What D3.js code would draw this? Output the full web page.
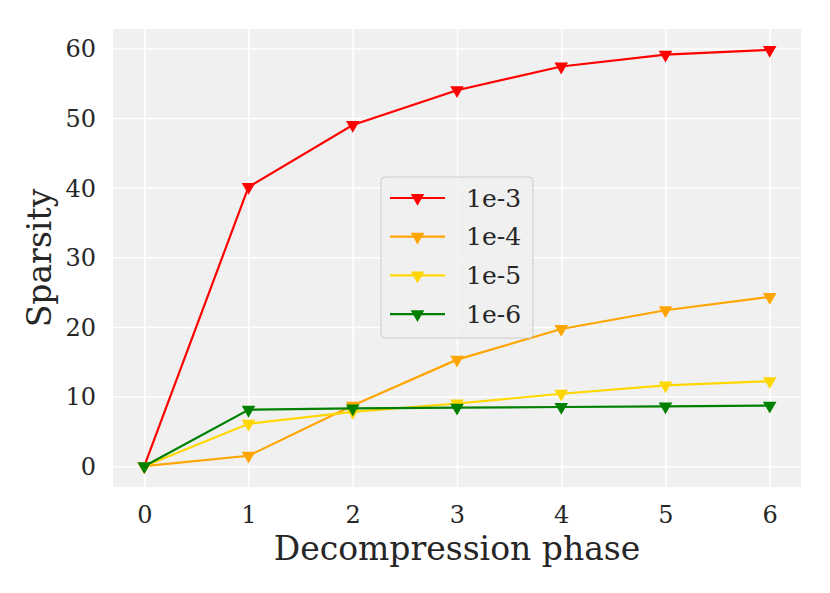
<!DOCTYPE html>
<html>
<head>
<meta charset="utf-8">
<script src="https://cdn.jsdelivr.net/npm/d3@7"></script>
<style>
  body { margin: 0; background: #fff; }
  text { font-family: "DejaVu Serif", serif; fill: #262626; }
</style>
</head>
<body>
<script>
// chart values
var phases = [0, 1, 2, 3, 4, 5, 6];
var seriesNames = ["1e-3", "1e-4", "1e-5", "1e-6"];
var seriesColors = ["#ff0000", "#ffa500", "#ffd700", "#008000"];
var sparsity3 = [0, 40.1, 49.0, 54.0, 57.4, 59.1, 59.8];
var sparsity4 = [0, 1.5, 8.7, 15.3, 19.7, 22.4, 24.3];
var sparsity5 = [0, 6.1, 7.8, 9.0, 10.4, 11.6, 12.2];
var sparsity6 = [0, 8.1, 8.3, 8.4, 8.5, 8.6, 8.7];
var yTicks = [0, 10, 20, 30, 40, 50, 60];

var series = [sparsity3, sparsity4, sparsity5, sparsity6].map(function(vals, i){
  return {name: seriesNames[i], color: seriesColors[i],
          values: vals.map(function(v, j){ return {x: phases[j], y: v}; })};
});

var width = 830, height = 593;
var margin = {left:113, right:29, top:29, bottom:106};
var w = width - margin.left - margin.right,
    h = height - margin.top - margin.bottom;

var xPad = (d3.max(phases) - d3.min(phases)) * 0.05;
var allY = [].concat(sparsity3, sparsity4, sparsity5, sparsity6);
var yPad = (d3.max(allY) - d3.min(allY)) * 0.05;

var x = d3.scaleLinear()
  .domain([d3.min(phases) - xPad, d3.max(phases) + xPad])
  .range([0, w]);
var y = d3.scaleLinear()
  .domain([d3.min(allY) - yPad, d3.max(allY) + yPad])
  .range([h, 0]);

var svg = d3.select('body').append('svg').attr('width', width).attr('height', height);
var chartGroup = svg.append('g')
  .attr('transform', 'translate(' + margin.left + ',' + margin.top + ')');

chartGroup.append('rect').attr('width', w).attr('height', h).attr('fill', '#f0f0f0');

// grid lines come from the axes with full-length ticks
var xAxis = d3.axisBottom(x).tickValues(phases).tickSize(-h).tickFormat(d3.format('d'));
var yAxis = d3.axisLeft(y).tickValues(yTicks).tickSize(-w).tickFormat(d3.format('d'));

var gx = chartGroup.append('g').attr('class', 'axis x')
  .attr('transform', 'translate(0,' + h + ')').call(xAxis);
var gy = chartGroup.append('g').attr('class', 'axis y').call(yAxis);

[gx, gy].forEach(function(g){
  g.select('.domain').remove();
  g.selectAll('line').attr('stroke', '#ffffff').attr('stroke-width', 1.6);
  g.selectAll('text').style('font-size', '24px').attr('fill', '#262626');
});
gx.selectAll('text').attr('dy', null).attr('y', 36);
gy.selectAll('text').attr('x', -17).attr('dy', '0.35em');

var line = d3.line()
  .x(function(d){ return x(d.x); })
  .y(function(d){ return y(d.y); });

var tri = d3.symbol().type(d3.symbolTriangle).size(80);

series.forEach(function(s){
  var g = chartGroup.append('g');
  g.append('path').attr('d', line(s.values))
    .attr('fill', 'none').attr('stroke', s.color).attr('stroke-width', 2.2);
  g.selectAll('path.mk').data(s.values).enter().append('path').attr('class', 'mk')
    .attr('d', tri)
    .attr('transform', function(d){ return 'translate(' + x(d.x) + ',' + y(d.y) + ') rotate(180)'; })
    .attr('fill', s.color);
});

// legend
var legend = chartGroup.append('g')
  .attr('transform', 'translate(' + (381 - margin.left) + ',' + (177 - margin.top) + ')');
legend.append('rect').attr('width', 152).attr('height', 161).attr('rx', 4)
  .attr('fill', '#f0f0f0').attr('fill-opacity', 0.8)
  .attr('stroke', '#cccccc').attr('stroke-width', 1);
var rows = legend.selectAll('g.row').data(series).enter().append('g').attr('class', 'row')
  .attr('transform', function(d, i){ return 'translate(0,' + (21 + i * 38.7) + ')'; });
rows.append('line').attr('x1', 9).attr('x2', 64).attr('y1', 0).attr('y2', 0)
  .attr('stroke', function(d){ return d.color; }).attr('stroke-width', 2.2);
rows.append('path').attr('d', tri)
  .attr('transform', 'translate(36.5,0) rotate(180)')
  .attr('fill', function(d){ return d.color; });
rows.append('text').attr('x', 85).attr('dy', '0.35em')
  .style('font-size', '25px').text(function(d){ return d.name; });

// axis titles
svg.append('text').attr('x', margin.left + w / 2).attr('y', 560)
  .attr('text-anchor', 'middle').style('font-size', '33px').text('Decompression phase');
svg.append('text').attr('transform', 'translate(51,' + (margin.top + h / 2) + ') rotate(-90)')
  .attr('text-anchor', 'middle').style('font-size', '33px').text('Sparsity');
</script>
</body>
</html>
